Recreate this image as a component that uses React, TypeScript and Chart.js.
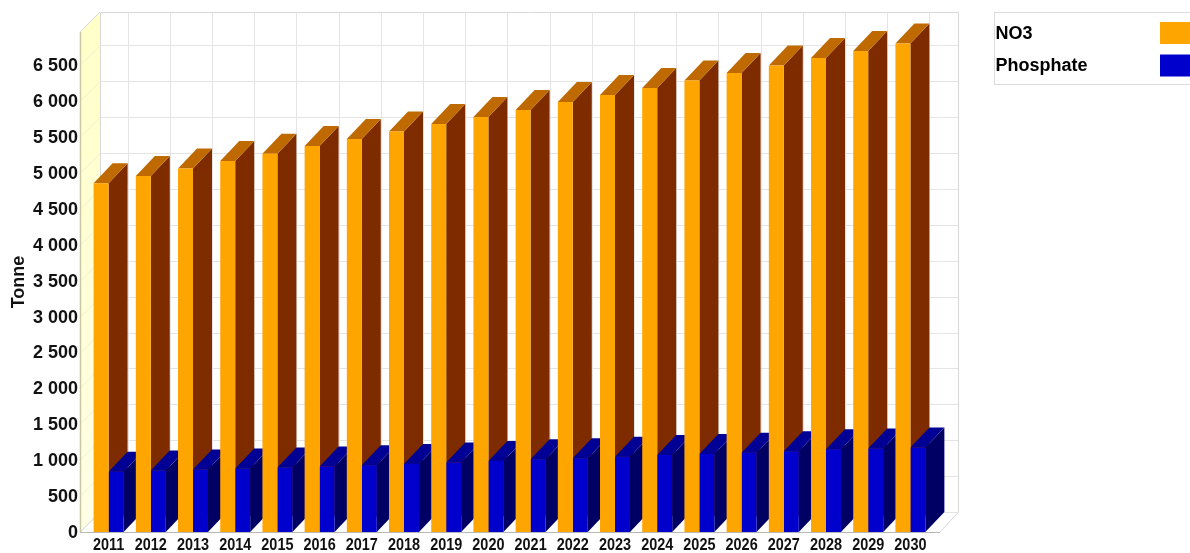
import React, { useEffect, useRef } from "react";
import { Chart, registerables } from "chart.js";

Chart.register(...registerables);

const years = ["2011","2012","2013","2014","2015","2016","2017","2018","2019","2020","2021","2022","2023","2024","2025","2026","2027","2028","2029","2030"];
const no3 = [4857,4958,5063,5167,5269,5376,5474,5578,5682,5780,5877,5989,6086,6184,6288,6393,6497,6602,6699,6804];
const phosphate = [840,855,870,885,898,912,930,948,968,989,1012,1026,1049,1072,1088,1105,1125,1152,1163,1177];
const yTickValues = [0,500,1000,1500,2000,2500,3000,3500,4000,4500,5000,5500,6000,6500];

const FONT = "'Liberation Sans', Arial, sans-serif";
const DEPTH_X = 19;
const DEPTH_Y = 20;
const WALL_DX = 20;
const WALL_DY = 20;

// Shades used for the extruded side and top of each bar, per dataset.
const sideShades = ["#7f2b00", "#000064"];
const topShades = ["#bf6a00", "#000094"];

const depthPlugin = {
  id: "depth",
  beforeDatasetsDraw(chart: any) {
    const { ctx, chartArea } = chart;
    const xs = chart.scales.x;
    const ys = chart.scales.y;
    const frontL = chartArea.left - 7.5;
    const frontR = chartArea.right + 8.5;
    const bottom = ys.getPixelForValue(0);
    const top = chartArea.top;
    const backL = frontL + WALL_DX;
    const backR = frontR + 18;
    const backTop = top - WALL_DY;
    const backBottom = bottom - WALL_DY;

    ctx.save();
    // Left wall
    const wall = ctx.createLinearGradient(0, backTop, 0, bottom);
    wall.addColorStop(0, "#ffffc8");
    wall.addColorStop(1, "#ffffe6");
    ctx.fillStyle = wall;
    ctx.beginPath();
    ctx.moveTo(frontL, top);
    ctx.lineTo(backL, backTop);
    ctx.lineTo(backL, backBottom);
    ctx.lineTo(frontL, bottom);
    ctx.closePath();
    ctx.fill();

    // Grid on the back wall, with its continuation across the left wall
    ctx.lineWidth = 1;
    ys.ticks.forEach((t: any) => {
      const y = Math.round(ys.getPixelForValue(t.value)) + 0.5;
      ctx.strokeStyle = "#f0f0d2";
      ctx.beginPath();
      ctx.moveTo(frontL, y);
      ctx.lineTo(backL, y - WALL_DY);
      ctx.stroke();
      ctx.strokeStyle = "#e4e4e4";
      ctx.beginPath();
      ctx.moveTo(backL, y - WALL_DY);
      ctx.lineTo(backR, y - WALL_DY);
      ctx.stroke();
    });
    years.forEach((_, i) => {
      const x = Math.round(xs.getPixelForTick(i) + DEPTH_X) + 0.5;
      ctx.beginPath();
      ctx.moveTo(x, backTop);
      ctx.lineTo(x, backBottom);
      ctx.lineTo(x - DEPTH_X, bottom);
      ctx.stroke();
    });

    // Frame of the box
    ctx.strokeStyle = "#d8d8d8";
    ctx.beginPath();
    ctx.moveTo(backL + 0.5, backBottom);
    ctx.lineTo(backL + 0.5, backTop + 0.5);
    ctx.lineTo(backR + 0.5, backTop + 0.5);
    ctx.lineTo(backR + 0.5, backBottom);
    ctx.lineTo(frontR, bottom);
    ctx.moveTo(backL, backBottom);
    ctx.lineTo(frontL, bottom);
    ctx.moveTo(frontL, top);
    ctx.lineTo(backL, backTop);
    ctx.stroke();
    ctx.strokeStyle = "#c8c8a4";
    ctx.lineWidth = 1.5;
    ctx.beginPath();
    ctx.moveTo(frontL + 0.5, top);
    ctx.lineTo(frontL + 0.5, bottom);
    ctx.stroke();
    ctx.lineWidth = 1;
    ctx.strokeStyle = "#b8b8b8";
    ctx.beginPath();
    ctx.moveTo(frontL, bottom + 0.5);
    ctx.lineTo(frontR, bottom + 0.5);
    ctx.stroke();

    // Side and top faces; the library paints the front faces over them afterwards
    chart.data.datasets.forEach((_: any, d: number) => {
      chart.getDatasetMeta(d).data.forEach((bar: any) => {
        const { x, y, width, base } = bar.getProps(["x", "y", "width", "base"], true);
        const l = x - width / 2;
        const r = x + width / 2;
        ctx.fillStyle = sideShades[d];
        ctx.beginPath();
        ctx.moveTo(r, y);
        ctx.lineTo(r + DEPTH_X, y - DEPTH_Y);
        ctx.lineTo(r + DEPTH_X, base - DEPTH_Y);
        ctx.lineTo(r, base);
        ctx.closePath();
        ctx.fill();
        ctx.fillStyle = topShades[d];
        ctx.beginPath();
        ctx.moveTo(l, y);
        ctx.lineTo(l + DEPTH_X, y - DEPTH_Y);
        ctx.lineTo(r + DEPTH_X, y - DEPTH_Y);
        ctx.lineTo(r, y);
        ctx.closePath();
        ctx.fill();
      });
    });
    ctx.restore();
  },
};

// Year labels are set in a condensed cut of the bold face.
const yearLabelPlugin = {
  id: "yearLabels",
  afterDraw(chart: any) {
    const { ctx } = chart;
    const xs = chart.scales.x;
    ctx.save();
    ctx.font = `bold 17px ${FONT}`;
    ctx.fillStyle = "#111111";
    ctx.textAlign = "center";
    ctx.textBaseline = "middle";
    years.forEach((label, i) => {
      ctx.save();
      ctx.translate(xs.getPixelForTick(i), 545.5);
      ctx.scale(0.85, 1);
      ctx.fillText(label, 0, 0);
      ctx.restore();
    });
    ctx.restore();
  },
};

const keyPlugin = {
  id: "key",
  afterDraw(chart: any) {
    const { ctx } = chart;
    ctx.save();
    ctx.strokeStyle = "#dcdcdc";
    ctx.lineWidth = 1;
    ctx.strokeRect(994.5, 12.5, 210, 72);
    ctx.font = `bold 18px ${FONT}`;
    ctx.textBaseline = "middle";
    ctx.textAlign = "left";
    chart.data.datasets.forEach((ds: any, i: number) => {
      const cy = 33 + i * 32.5;
      ctx.fillStyle = "#000000";
      ctx.fillText(ds.label, 995.5, cy + 1);
      ctx.fillStyle = ds.backgroundColor;
      ctx.fillRect(1160, cy - 11, 30, 22);
    });
    ctx.restore();
  },
};

export default function App() {
  const ref = useRef<HTMLCanvasElement>(null);
  useEffect(() => {
    const chart = new Chart(ref.current as HTMLCanvasElement, {
      type: "bar",
      data: {
        labels: years,
        datasets: [
          { label: "NO3", data: no3, backgroundColor: "#ffa500" },
          { label: "Phosphate", data: phosphate, backgroundColor: "#0000cc" },
        ],
      },
      plugins: [depthPlugin, yearLabelPlugin, keyPlugin],
      options: {
        responsive: false,
        animation: false,
        layout: { padding: { left: 8, right: 258.5, top: 32, bottom: 0 } },
        plugins: { legend: { display: false }, title: { display: false }, tooltip: { enabled: false } },
        datasets: { bar: { categoryPercentage: 0.71, barPercentage: 1 } },
        scales: {
          x: {
            grid: { display: false, drawTicks: false },
            border: { display: false },
            afterFit(scale: any) { scale.height = 21; },
            ticks: { display: false, autoSkip: false, maxRotation: 0 },
          },
          y: {
            min: 0,
            max: 6964,
            grid: { display: false, drawTicks: false },
            border: { display: false },
            afterBuildTicks(scale: any) { scale.ticks = yTickValues.map((value) => ({ value })); },
            afterFit(scale: any) { scale.width = 79.5; },
            title: {
              display: true,
              text: "Tonne",
              color: "#111111",
              padding: 0,
              font: { family: FONT, weight: "bold", size: 18 },
            },
            ticks: {
              autoSkip: false,
              padding: 9.5,
              labelOffset: 1,
              color: "#111111",
              font: { family: FONT, weight: "bold", size: 18 },
              callback: (v: any) => String(v).replace(/\B(?=(\d{3})+$)/g, " "),
            },
          },
        },
      },
    } as any);
    return () => chart.destroy();
  }, []);
  return (
    <div style={{ position: "absolute", left: 0, top: 0, width: 1190, height: 553, overflow: "hidden", background: "#fff" }}>
      <canvas ref={ref} width={1190} height={553} style={{ display: "block" }} />
    </div>
  );
}
